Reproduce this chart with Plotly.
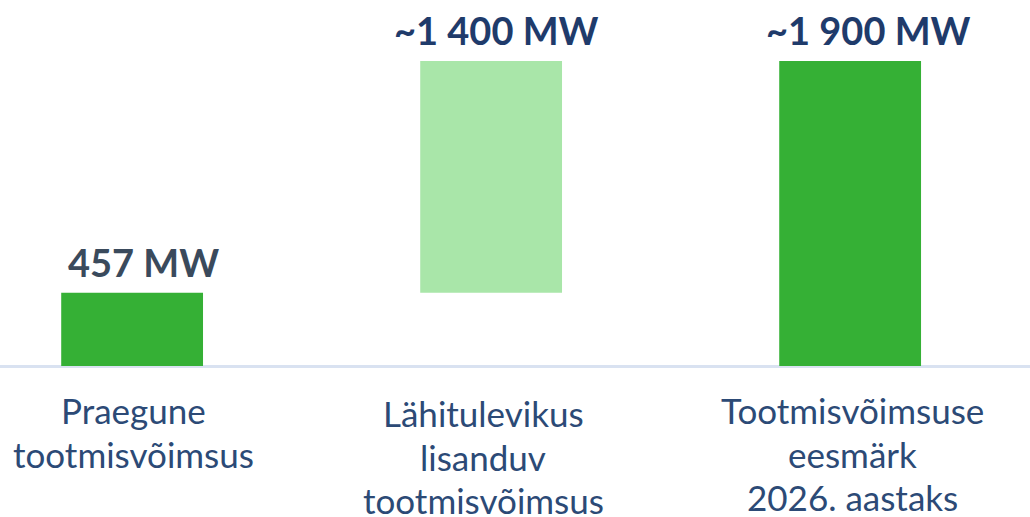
import plotly.graph_objects as go

categories = [
    ["Praegune", "tootmisvõimsus"],
    ["Lähitulevikus", "lisanduv", "tootmisvõimsus"],
    ["Tootmisvõimsuse", "eesmärk", "2026. aastaks"],
]
bases = [0, 457, 0]
values = [457, 1443, 1900]
value_labels = ["457 MW", "~1 400 MW", "~1 900 MW"]

bar_colors = ["#35b035", "#a9e6a9", "#35b035"]
label_colors = ["#3a4a5c", "#1f3b6b", "#1f3b6b"]
label_xshift = [11, 5, 18]
cat_xshift = [1, -8, 2]

xs = list(range(len(values)))

fig = go.Figure()
fig.add_trace(go.Bar(
    x=xs,
    y=values,
    base=bases,
    width=0.395,
    marker=dict(color=bar_colors, line=dict(width=0)),
    hoverinfo="skip",
))

# value labels above the bars
for i, (b, v) in enumerate(zip(bases, values)):
    fig.add_annotation(
        x=i, y=b + v, text=value_labels[i], showarrow=False,
        yanchor="bottom", yshift=6, xshift=label_xshift[i],
        font=dict(family="Lato", size=38, color=label_colors[i], weight="bold"),
    )

# category labels under the axis, one annotation per line
for i, lines in enumerate(categories):
    extra = 3 if i == 1 else 0
    for j, line in enumerate(lines):
        fig.add_annotation(
            x=i, y=0, text=line, showarrow=False,
            yanchor="middle", yshift=-(44 + extra + 43.5 * j), xshift=cat_xshift[i],
            font=dict(family="Lato", size=35, color="#2c4a76"),
        )

fig.update_layout(
    width=1030, height=517,
    margin=dict(l=0, r=0, t=0, b=151),
    plot_bgcolor="white", paper_bgcolor="white",
    showlegend=False,
    xaxis=dict(range=[-0.368, 2.501], showticklabels=False, showgrid=False,
               zeroline=False, showline=False, fixedrange=True),
    yaxis=dict(range=[0, 2280], showticklabels=False, showgrid=False,
               zeroline=True, zerolinecolor="#d9e2f1", zerolinewidth=3,
               fixedrange=True),
)

fig.write_html("out.html", config={"displayModeBar": False},
               post_script="document.body.style.margin='0px';")
